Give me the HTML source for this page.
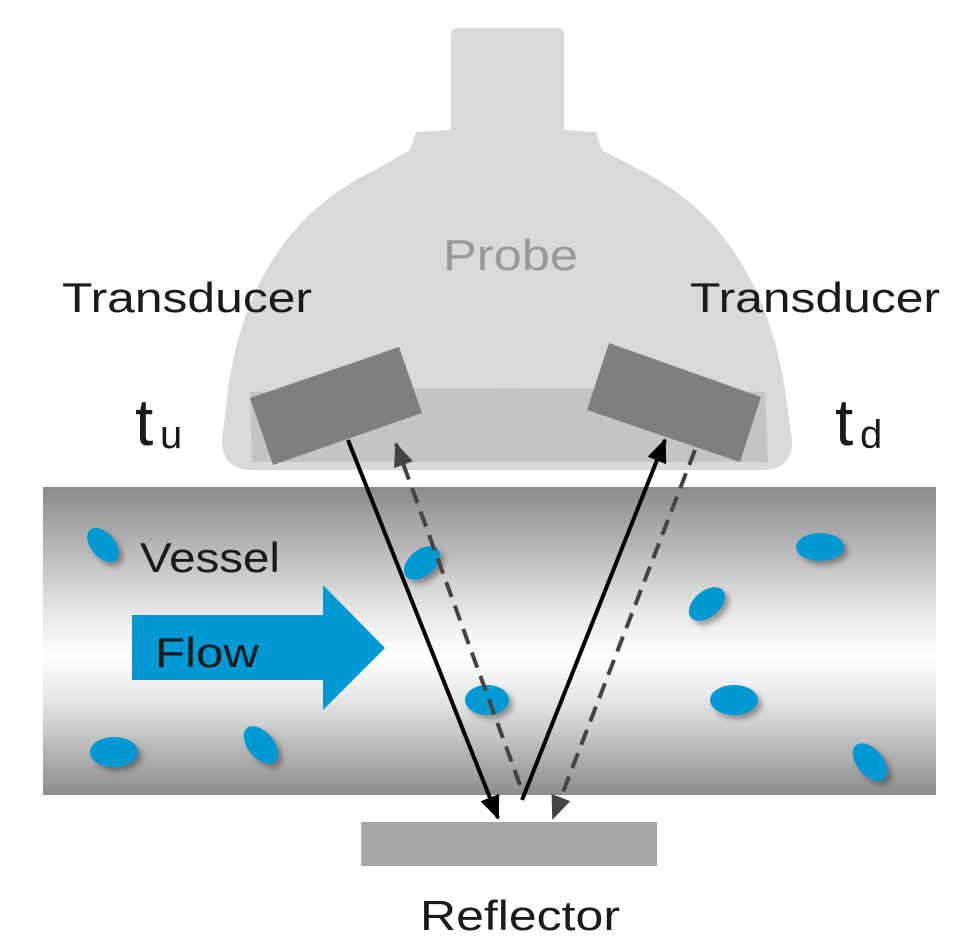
<!DOCTYPE html>
<html><head><meta charset="utf-8"><style>html,body{margin:0;padding:0;background:#fff}svg{display:block}</style></head>
<body>
<svg width="960" height="952" viewBox="0 0 960 952" xmlns="http://www.w3.org/2000/svg">
<defs>
<linearGradient id="vg" x1="0" y1="0" x2="0" y2="1">
<stop offset="0" stop-color="#8a8a8a"/>
<stop offset="0.4" stop-color="#e6e6e6"/>
<stop offset="0.55" stop-color="#ffffff"/>
<stop offset="0.7" stop-color="#e4e4e4"/>
<stop offset="1" stop-color="#8c8c8c"/>
</linearGradient>
<filter id="sh" x="-50%" y="-50%" width="200%" height="200%"><feDropShadow dx="4" dy="4" stdDeviation="3" flood-color="#000" flood-opacity="0.35"/></filter>
<marker id="ab" markerWidth="24" markerHeight="24" refX="22" refY="12" orient="auto" markerUnits="userSpaceOnUse" viewBox="0 0 24 24"><path d="M0,2 L24,12 L0,22 z" fill="#000"/></marker>
<marker id="ag" markerWidth="24" markerHeight="24" refX="22" refY="12" orient="auto" markerUnits="userSpaceOnUse" viewBox="0 0 24 24"><path d="M0,2 L24,12 L0,22 z" fill="#444"/></marker>
</defs>
<path d="M458,28 L557,28 Q564,28 564,36 L564,130 L596,132 L602,150 L640,170 Q760,230 785,390 L792,440 Q793,468 765,470 L250,470 Q222,468 222,440 L228,390 Q250,230 375,170 L410,150 L416,132 L451,130 L451,36 Q451,28 458,28 Z" fill="#d9d9d9"/>
<path d="M250,392 Q505,385 765,392 L768,462 L252,462 Z" fill="#c4c4c4"/>
<polygon points="250,398 399,347 422,413 273,465" fill="#7f7f7f"/>
<polygon points="609,343 761,397 740,462 587,410" fill="#7f7f7f"/>
<rect x="43" y="487" width="893" height="308" fill="url(#vg)"/>
<g fill="#0099d4" filter="url(#sh)">
<ellipse cx="103" cy="545" rx="12" ry="20" transform="rotate(-40 103 545)"/>
<ellipse cx="422" cy="563" rx="13" ry="21" transform="rotate(50 422 563)"/>
<ellipse cx="820" cy="547" rx="24" ry="14"/>
<ellipse cx="707" cy="604" rx="13" ry="21" transform="rotate(50 707 604)"/>
<ellipse cx="487" cy="700" rx="22" ry="15"/>
<ellipse cx="734" cy="700" rx="24" ry="15"/>
<ellipse cx="114" cy="752" rx="24" ry="15"/>
<ellipse cx="261" cy="745" rx="13" ry="22" transform="rotate(-40 261 745)"/>
<ellipse cx="870" cy="762" rx="13" ry="22" transform="rotate(-40 870 762)"/>
</g>
<polygon points="132,615 323,615 323,585 385,648 323,710 323,680 132,680" fill="#0099d4"/>
<rect x="361" y="822" width="296" height="44" fill="#a6a6a6"/>
<line x1="348" y1="440" x2="498" y2="818" stroke="#000" stroke-width="4" marker-end="url(#ab)"/>
<line x1="522" y1="800" x2="665" y2="440" stroke="#000" stroke-width="4" marker-end="url(#ab)"/>
<line x1="520" y1="785" x2="396" y2="444" stroke="#444" stroke-width="4" stroke-dasharray="16,9" marker-end="url(#ag)"/>
<line x1="695" y1="450" x2="553" y2="818" stroke="#444" stroke-width="4" stroke-dasharray="16,9" marker-end="url(#ag)"/>
<g font-family="Liberation Sans, sans-serif" fill="#1a1a1a">
<text x="443" y="270" font-size="44" fill="#999" textLength="135" lengthAdjust="spacingAndGlyphs">Probe</text>
<text x="62" y="312" font-size="42" textLength="250" lengthAdjust="spacingAndGlyphs">Transducer</text>
<text x="690" y="312" font-size="42" textLength="250" lengthAdjust="spacingAndGlyphs">Transducer</text>
<text x="135" y="445" font-size="66">t</text><text x="160" y="448" font-size="40">u</text>
<text x="835" y="445" font-size="66">t</text><text x="860" y="448" font-size="40">d</text>
<text x="140" y="572" font-size="42" textLength="140" lengthAdjust="spacingAndGlyphs">Vessel</text>
<text x="155" y="667" font-size="42" textLength="104" lengthAdjust="spacingAndGlyphs">Flow</text>
<text x="420" y="930" font-size="42" textLength="200" lengthAdjust="spacingAndGlyphs">Reflector</text>
</g>
</svg>
</body></html>
